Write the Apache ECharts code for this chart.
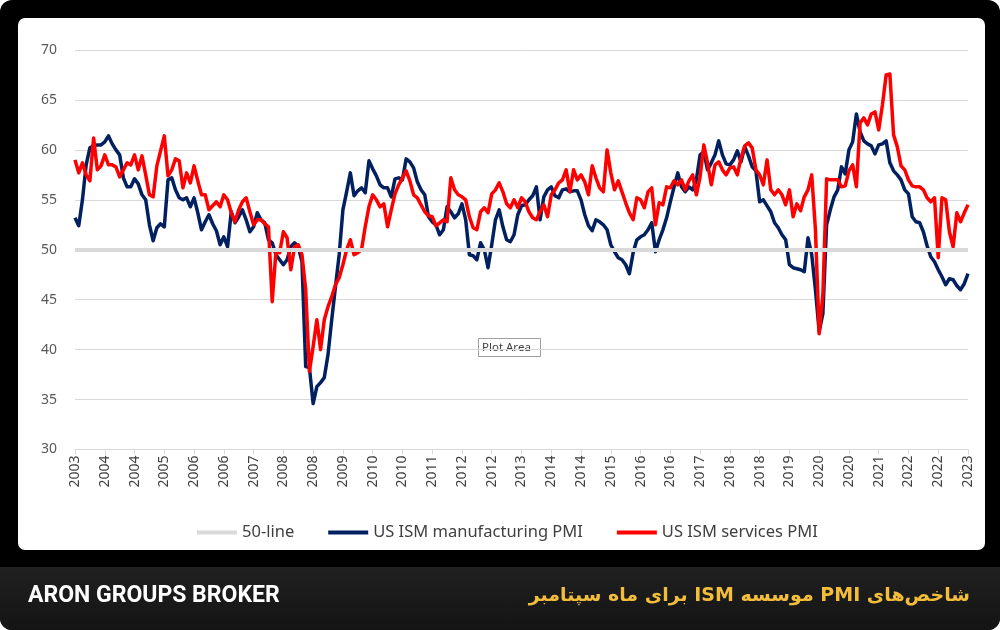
<!DOCTYPE html>
<html>
<head>
<meta charset="utf-8">
<script src="https://cdn.jsdelivr.net/npm/echarts@6/dist/echarts.min.js"></script>
<style>
  html, body { margin: 0; padding: 0; background: #ffffff; }
  #frame { position: absolute; left: 0; top: 0; width: 1000px; height: 630px; background: #000; border-radius: 12px; }
  #panel { position: absolute; left: 18px; top: 18px; width: 967px; height: 532px; background: #fff; border-radius: 7px; }
  #band { position: absolute; left: 0; top: 567px; width: 1000px; height: 63px; background: linear-gradient(#202020, #141414); border-radius: 0 0 12px 12px; }
  #chart { position: absolute; left: 0; top: 0; width: 1000px; height: 630px; }
</style>
</head>
<body>
<div id="frame"></div>
<div id="panel"></div>
<div id="band"></div>
<div id="chart"></div>
<script>
// ---- Data (monthly, Aug 2003 – Aug 2023) ----
const startYear = 2003;
const startMonth = 8;

const manufacturingPMI = [
  53.2, 52.4, 55.0, 58.5, 60.2, 60.4, 60.5, 60.5, 60.8, 61.4,
  60.6, 60.0, 59.5, 57.2, 56.3, 56.3, 57.1, 56.6, 55.5, 55.0,
  52.5, 50.9, 52.2, 52.6, 52.3, 57.0, 57.2, 56.0, 55.2, 55.0,
  55.2, 54.3, 55.2, 53.7, 52.0, 52.8, 53.5, 52.6, 51.9, 50.5,
  51.3, 50.3, 53.8, 52.7, 53.3, 54.0, 53.0, 51.8, 52.3, 53.7,
  53.0, 52.7, 51.0, 50.7, 49.5, 49.0, 48.5, 49.0, 50.3, 50.7,
  50.3, 48.8, 38.3, 38.2, 34.6, 36.3, 36.7, 37.2, 39.5, 43.0,
  46.3, 49.5, 54.0, 55.8, 57.7, 55.4, 55.9, 56.2, 55.7, 58.9,
  58.1, 57.4, 56.5, 56.2, 56.2, 55.3, 57.1, 57.2, 57.0, 59.1,
  58.8, 58.2, 56.8, 56.0, 55.5, 53.3, 52.8, 52.5, 51.5, 52.0,
  54.3, 53.8, 53.2, 53.6, 54.6, 53.0, 49.5, 49.4, 49.0, 50.7,
  50.0, 48.2, 50.5, 53.0, 54.0, 52.3, 51.0, 50.8, 51.5, 53.5,
  54.4, 54.5, 55.0, 55.4, 56.3, 53.0, 55.3, 56.0, 56.3, 55.4,
  55.2, 56.0, 56.1, 55.8, 55.9, 55.9, 55.0, 53.5, 52.4, 51.9,
  53.0, 52.8, 52.5, 52.0, 50.5, 49.8, 49.2, 49.0, 48.5, 47.6,
  49.7, 51.0, 51.3, 51.5, 52.0, 52.7, 49.8, 51.0, 52.0, 53.2,
  54.8, 56.3, 57.7, 56.3, 55.8, 56.3, 56.0, 57.0, 59.5, 59.8,
  58.0, 58.7, 59.5, 60.9, 59.5, 58.6, 58.5, 59.0, 59.9, 58.8,
  60.3, 59.4, 58.3, 57.9, 54.8, 55.0, 54.4, 53.8, 52.7, 52.2,
  51.5, 51.0, 48.5, 48.2, 48.1, 48.0, 47.8, 51.2, 49.5, 46.0,
  41.8, 43.6, 52.5, 54.0, 55.3, 56.0, 58.3, 57.6, 60.0, 60.8,
  63.6, 61.8, 60.9, 60.6, 60.4, 59.6, 60.5, 60.6, 60.9, 58.7,
  57.9, 57.5, 57.0, 56.0, 55.6, 53.3, 52.8, 52.7, 51.8, 50.4,
  49.3, 48.8, 48.0, 47.3, 46.5, 47.1, 47.0, 46.4, 46.0, 46.6,
  47.6
];

const servicesPMI = [
  59.0, 57.7, 58.7, 57.5, 56.9, 61.2, 58.0, 58.4, 59.5, 58.5,
  58.5, 58.3, 57.3, 58.0, 58.7, 58.5, 59.5, 58.0, 59.4, 57.5,
  55.5, 55.3, 58.4, 59.9, 61.4, 57.4, 58.0, 59.1, 58.9, 56.2,
  57.7, 56.7, 58.4, 56.9, 55.5, 55.5, 54.0, 54.4, 54.8, 54.3,
  55.5, 55.0, 53.7, 52.8, 54.0, 54.8, 55.2, 53.8, 52.5, 53.0,
  53.0, 52.6, 52.3, 44.8, 49.8, 49.7, 51.8, 51.2, 48.0, 50.3,
  50.5, 49.5, 46.0, 37.8, 40.3, 43.0, 40.0, 43.0, 44.3, 45.3,
  46.5, 47.2, 48.5, 50.0, 51.0, 49.5, 49.7, 50.0, 52.3, 54.3,
  55.5, 55.0, 54.3, 54.6, 52.3, 54.0, 55.6, 56.5, 57.2, 57.9,
  56.9, 55.5, 55.2, 54.5, 53.8, 53.4, 53.3, 52.4, 52.7, 53.0,
  52.8, 57.2, 56.0, 55.5, 55.3, 55.0, 53.3, 52.2, 52.0, 53.8,
  54.2, 53.7, 55.6, 56.0, 56.7, 55.8, 54.6, 54.2, 55.0, 54.2,
  55.2, 54.8, 53.8, 53.2, 53.0, 53.8, 54.5, 53.3, 55.5, 56.0,
  56.7, 57.0, 58.0, 55.8, 58.0, 57.0, 57.5, 56.8, 55.5, 58.4,
  57.2, 56.2, 55.8, 60.0, 57.7, 56.0, 56.9, 55.8, 54.7, 53.7,
  53.0, 55.2, 55.0, 54.2, 55.8, 56.2, 52.5, 54.7, 54.5, 56.3,
  56.2, 56.9, 56.5, 57.0, 56.0, 56.9, 57.5, 55.5, 57.3, 60.5,
  58.7, 56.5, 58.5, 58.8, 58.0, 57.5, 58.2, 58.3, 57.5, 59.2,
  60.4, 60.7, 60.2, 58.0, 57.5, 56.5, 59.0, 56.0, 55.5, 56.0,
  55.5, 54.5, 56.0, 53.3, 54.6, 53.9, 55.3, 56.0, 57.5, 52.0,
  41.6, 45.5, 57.1, 57.0, 57.0, 57.0, 56.3, 56.4, 57.9, 58.5,
  56.3, 62.7, 63.2, 62.5, 63.6, 63.8, 62.0, 64.5, 67.5, 67.6,
  61.5, 60.3, 58.4, 58.0, 57.0, 56.4, 56.3, 56.3, 56.0, 55.2,
  54.8, 55.2, 49.2, 55.2, 55.0, 51.8, 50.3, 53.7, 52.8, 53.7,
  54.5
];

const referenceLevel = 50;
const yTicks = [30, 35, 40, 45, 50, 55, 60, 65, 70];
const seriesNames = ['50-line', 'US ISM manufacturing PMI', 'US ISM services PMI'];
const footerLeft = 'ARON GROUPS BROKER';
const footerTitle = 'شاخص\u200Cهای PMI موسسه ISM برای ماه سپتامبر';

// month categories (labels show the year only, every 8th month)
const months = [];
for (let i = 0; i < manufacturingPMI.length; i++) {
  const m0 = startMonth - 1 + i;
  const y = startYear + Math.floor(m0 / 12);
  const m = (m0 % 12) + 1;
  months.push(y + '-' + (m < 10 ? '0' + m : m));
}

const chart = echarts.init(document.getElementById('chart'), null, { renderer: 'canvas' });
const axisFont = 'Noto Sans';

chart.setOption({
  backgroundColor: 'transparent',
  animation: false,
  grid: { left: 75, right: 32, top: 50, bottom: 180.5 },
  xAxis: {
    type: 'category',
    boundaryGap: false,
    data: months,
    axisLine: { show: true, lineStyle: { color: '#d9d9d9', width: 1 } },
    axisTick: { show: true, interval: 7, length: 5, lineStyle: { color: '#d9d9d9' } },
    axisLabel: {
      interval: 7, rotate: 90, margin: 6,
      fontFamily: axisFont, fontSize: 14, color: '#404040',
      formatter: v => v.slice(0, 4)
    },
    splitLine: { show: false }
  },
  yAxis: {
    type: 'value',
    min: yTicks[0], max: yTicks[yTicks.length - 1], interval: 5,
    axisLine: { show: false }, axisTick: { show: false },
    axisLabel: { margin: 18, fontFamily: axisFont, fontSize: 14, color: '#595959' },
    splitLine: { lineStyle: { color: '#d9d9d9', width: 1 } }
  },
  legend: {
    data: seriesNames,
    left: 192, top: 519,
    icon: 'rect', itemWidth: 40, itemHeight: 4, itemGap: 34,
    textStyle: { fontFamily: axisFont, fontSize: 16.5, color: '#404040' }
  },
  series: [
    {
      name: seriesNames[0], type: 'line', data: [], z: 1,
      color: '#d9d9d9', symbol: 'none',
      markLine: {
        silent: true, symbol: 'none', label: { show: false },
        lineStyle: { color: '#d9d9d9', width: 4, type: 'solid' },
        data: [{ yAxis: referenceLevel }]
      }
    },
    {
      name: seriesNames[1], type: 'line', data: manufacturingPMI, z: 3,
      color: '#002060', symbol: 'none', showSymbol: false,
      lineStyle: { color: '#002060', width: 3.5, join: 'round' }
    },
    {
      name: seriesNames[2], type: 'line', data: servicesPMI, z: 4,
      color: '#ff0000', symbol: 'none', showSymbol: false,
      lineStyle: { color: '#ff0000', width: 3.5, join: 'round' }
    }
  ],
  graphic: [
    {
      type: 'group', z: 100,
      children: [
        { type: 'rect', shape: { x: 478.5, y: 338.5, width: 62, height: 18 },
          style: { fill: '#ffffff', stroke: '#a0a0a0', lineWidth: 1 } },
        { type: 'text', x: 482, y: 347.5,
          style: { text: 'Plot Area', fontFamily: axisFont, fontSize: 11.5, fill: '#404040', verticalAlign: 'middle' } }
      ]
    },
    {
      type: 'text', z: 100, x: 28, y: 596,
      style: { text: footerLeft, fontFamily: 'Roboto', fontWeight: 'bold', fontSize: 23, fill: '#ffffff', verticalAlign: 'middle' }
    },
    {
      type: 'text', z: 100, x: 970, y: 596,
      style: { text: '\u202B' + footerTitle + '\u202C', fontFamily: 'DejaVu Sans', fontWeight: 'bold', fontSize: 19, fill: '#f3bd3c', align: 'right', verticalAlign: 'middle' }
    }
  ]
});
</script>
</body>
</html>
